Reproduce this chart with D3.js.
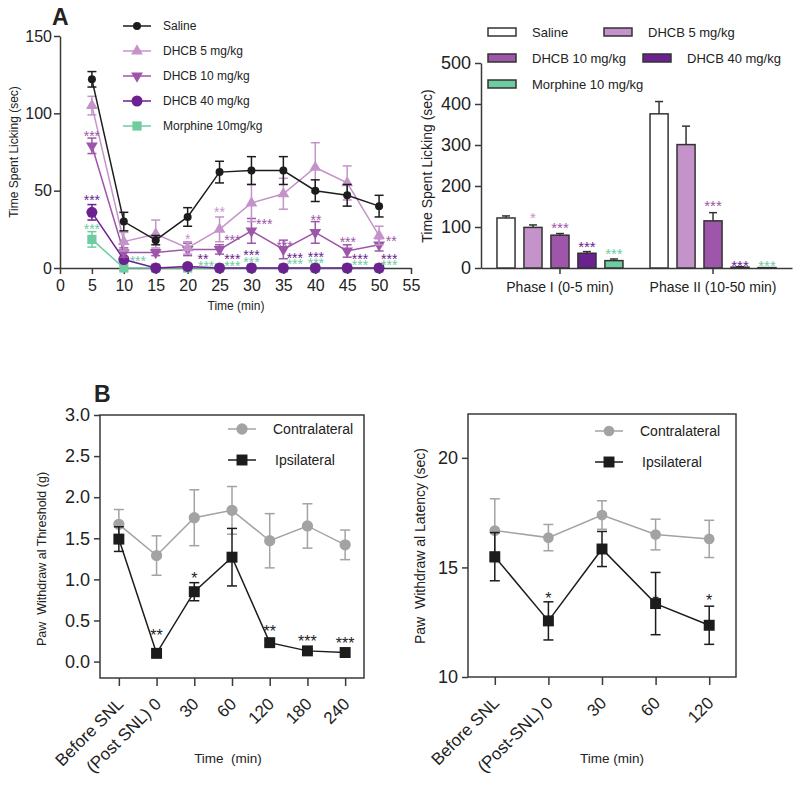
<!DOCTYPE html>
<html>
<head>
<meta charset="utf-8">
<script src="https://cdn.jsdelivr.net/npm/d3@7"></script>
<style>
body { margin: 0; background: #fff; }
text { font-family: "Liberation Sans", Arial, sans-serif; fill: #222; }
</style>
</head>
<body>
<script>
// ---------- panel A, left: licking time course ----------
var timeMin    = [5, 10, 15, 20, 25, 30, 35, 40, 45, 50];
var salineMean = [122, 30, 18, 33, 62, 63, 63, 50, 47, 40];
var salineErr  = [5, 6, 3, 6, 7, 9, 9, 7, 7, 7];
var dhcb5Mean  = [105, 17, 22, 13, 25, 42, 48, 65, 55, 21];
var dhcb5Err   = [6, 6, 9, 4, 8, 12, 10, 16, 11, 6];
var dhcb10Mean = [79, 10, 10, 12, 12, 24, 12, 23, 11, 15];
var dhcb10Err  = [5, 3, 2, 4, 3, 8, 6, 7, 4, 4];
var dhcb40Mean = [36, 5.5, 0, 1, 0, 0, 0, 0, 0, 0];
var dhcb40Err  = [5, 1, 0, 0, 0, 0, 0, 0, 0, 0];
var morphMean  = [18.5, 0, 0, 0, 0, 0, 0, 0, 0, 0];
var morphErr   = [5, 0, 0, 0, 0, 0, 0, 0, 0, 0];
var lineNames  = ["Saline", "DHCB 5 mg/kg", "DHCB 10 mg/kg", "DHCB 40 mg/kg", "Morphine 10mg/kg"];

// significance marks: [time, value, text, series index]
var starsA = [
  [5, 87, "***", 2], [5, 46, "***", 3], [5, 27, "***", 4],
  [12.2, 6.5, "***", 4],
  [20, 20.7, "*", 1], [22.4, 7.5, "**", 3], [22.9, 3.2, "***", 4],
  [25, 38, "**", 1], [27, 20, "***", 2], [27, 7.5, "***", 3], [27, 3.2, "***", 4],
  [32, 30, "***", 2], [30, 10, "***", 3], [30, 5.8, "***", 4],
  [35.2, 16, "***", 2], [36.8, 8.4, "***", 3], [36.8, 4.6, "***", 4],
  [40.1, 33, "**", 2], [40.1, 9, "***", 3], [40.1, 5.2, "***", 4],
  [45.1, 18.7, "***", 2], [47, 7.8, "***", 3], [47, 3.9, "***", 4],
  [51.9, 19.4, "**", 2], [51.6, 7.8, "***", 3], [51.6, 3.9, "***", 4]
];

// ---------- panel A, right: phase totals ----------
var phases     = ["Phase I (0-5 min)", "Phase II (10-50 min)"];
var barNames   = ["Saline", "DHCB 5 mg/kg", "DHCB 10 mg/kg", "DHCB 40 mg/kg", "Morphine 10 mg/kg"];
var phase1Mean = [122, 99, 80, 36, 18];
var phase1Err  = [5, 6, 4, 4, 4];
var phase2Mean = [376, 301, 115, 2, 1];
var phase2Err  = [30, 45, 20, 1, 0];
var phase1Stars = ["", "*", "***", "***", "***"];
var phase1StarV = [0, 130, 106, 58, 42];
var phase2Stars = ["", "", "***", "***", "***"];
var phase2StarV = [0, 0, 158, 14, 14];

// ---------- panel B, left: withdrawal threshold ----------
var thrTimes    = ["Before SNL", "(Post SNL) 0", "30", "60", "120", "180", "240"];
var contraThr   = [1.67, 1.29, 1.75, 1.84, 1.47, 1.65, 1.42];
var contraThrE  = [0.18, 0.24, 0.34, 0.29, 0.33, 0.27, 0.18];
var ipsiThr     = [1.49, 0.10, 0.85, 1.27, 0.23, 0.13, 0.11];
var ipsiThrE    = [0.15, 0.03, 0.11, 0.35, 0.03, 0.02, 0.02];
var thrStars    = ["", "**", "*", "", "**", "***", "***"];
var thrStarV    = [0, 0.36, 1.05, 0, 0.40, 0.28, 0.26];

// ---------- panel B, right: withdrawal latency ----------
var latTimes    = ["Before SNL", "(Post-SNL) 0", "30", "60", "120"];
var contraLat   = [16.68, 16.36, 17.39, 16.5, 16.3];
var contraLatE  = [1.45, 0.6, 0.65, 0.7, 0.85];
var ipsiLat     = [15.49, 12.56, 15.84, 13.35, 12.36];
var ipsiLatE    = [1.1, 0.87, 0.8, 1.42, 0.87];
var latStars    = ["", "*", "", "*", "*"];
var latStarV    = [0, 13.74, 0, 13.6, 13.66];

var colors = ["#1c1c1c", "#c493c9", "#9d56a9", "#6b2190", "#6fcba0"];
var gray = "#a3a3a3", black = "#1c1c1c", axisCol = "#3a3a3a";

var svg = d3.select("body").append("svg").attr("width", 800).attr("height", 786);

function styleAxis(g, fs) {
  g.selectAll("path, line").attr("stroke", axisCol).attr("stroke-width", 1.5);
  g.selectAll("text").style("font-size", fs + "px").attr("fill", "#222")
    .style("font-family", '"Liberation Sans", Arial, sans-serif');
}

function errorBars(g, xs, means, errs, x, y, color, cap, upOnly) {
  xs.forEach(function(xv, i) {
    if (!errs[i]) return;
    var cx = x(xv), lo = upOnly ? means[i] : means[i] - errs[i], hi = means[i] + errs[i];
    g.append("line").attr("x1", cx).attr("x2", cx).attr("y1", y(lo)).attr("y2", y(hi))
      .attr("stroke", color).attr("stroke-width", 1.5);
    g.append("line").attr("x1", cx - cap / 2).attr("x2", cx + cap / 2).attr("y1", y(hi)).attr("y2", y(hi))
      .attr("stroke", color).attr("stroke-width", 1.5);
    if (!upOnly) {
      g.append("line").attr("x1", cx - cap / 2).attr("x2", cx + cap / 2).attr("y1", y(lo)).attr("y2", y(lo))
        .attr("stroke", color).attr("stroke-width", 1.5);
    }
  });
}

function yLabel(txt, x, y, fs) {
  svg.append("text").attr("transform", "translate(" + x + "," + y + ") rotate(-90)")
    .attr("text-anchor", "middle").style("font-size", fs + "px").style("white-space", "pre").text(txt);
}

// ================= Panel A left =================
var xA = d3.scaleLinear().domain([0, 55]).range([60, 411]);
var yA = d3.scaleLinear().domain([0, 150]).range([268, 36]);

var gxA = svg.append("g").attr("transform", "translate(0,268)")
  .call(d3.axisBottom(xA).tickValues(d3.range(0, 56, 5)).tickSize(6).tickPadding(6).tickSizeOuter(0));
styleAxis(gxA, 16);
var gyA = svg.append("g").attr("transform", "translate(60,0)")
  .call(d3.axisLeft(yA).tickValues([0, 50, 100, 150]).tickSize(6).tickPadding(2).tickSizeOuter(0));
styleAxis(gyA, 16);

svg.append("text").attr("x", 236).attr("y", 310).attr("text-anchor", "middle")
  .style("font-size", "12px").text("Time (min)");
yLabel("Time Spent Licking (sec)", 18, 152, 12);
svg.append("text").attr("x", 52).attr("y", 25).style("font-size", "23px").style("font-weight", "bold").text("A");

var seriesA = [
  { m: salineMean, e: salineErr, sym: d3.symbolCircle, size: 50, rot: 0 },
  { m: dhcb5Mean, e: dhcb5Err, sym: d3.symbolTriangle, size: 60, rot: 0 },
  { m: dhcb10Mean, e: dhcb10Err, sym: d3.symbolTriangle, size: 60, rot: 180 },
  { m: dhcb40Mean, e: dhcb40Err, sym: d3.symbolCircle, size: 95, rot: 0 },
  { m: morphMean, e: morphErr, sym: d3.symbolSquare, size: 85, rot: 0 }
];

var lineA = d3.line().x(function(d) { return xA(d[0]); }).y(function(d) { return yA(d[1]); });
var plotA = svg.append("g");
[4, 3, 2, 1, 0].forEach(function(k) {
  var s = seriesA[k];
  var g = plotA.append("g");
  g.append("path").datum(timeMin.map(function(t, i) { return [t, s.m[i]]; }))
    .attr("d", lineA).attr("fill", "none").attr("stroke", colors[k]).attr("stroke-width", 1.5);
  errorBars(g, timeMin, s.m, s.e, xA, yA, colors[k], 9, false);
  g.selectAll("path.pt").data(timeMin).enter().append("path").attr("class", "pt")
    .attr("d", d3.symbol().type(s.sym).size(s.size))
    .attr("transform", function(t, i) { return "translate(" + xA(t) + "," + yA(s.m[i]) + ") rotate(" + s.rot + ")"; })
    .attr("fill", colors[k]);
});

svg.append("g").selectAll("text").data(starsA).enter().append("text")
  .attr("x", function(d) { return xA(d[0]); })
  .attr("y", function(d) { return yA(d[1]); })
  .attr("dy", "0.55em").attr("text-anchor", "middle")
  .style("font-size", "14px").attr("fill", function(d) { return colors[d[3]]; })
  .style("fill", function(d) { return colors[d[3]]; })
  .text(function(d) { return d[2]; });

// legend
var legA = svg.append("g");
lineNames.forEach(function(n, k) {
  var ly = 26 + k * 25;
  legA.append("line").attr("x1", 123).attr("x2", 151).attr("y1", ly).attr("y2", ly)
    .attr("stroke", colors[k]).attr("stroke-width", 1.5);
  legA.append("path").attr("d", d3.symbol().type(seriesA[k].sym).size(seriesA[k].size))
    .attr("transform", "translate(137," + ly + ") rotate(" + seriesA[k].rot + ")").attr("fill", colors[k]);
  legA.append("text").attr("x", 163).attr("y", ly).attr("dy", "0.35em").style("font-size", "12px").text(n);
});

// ================= Panel A right =================
var xP = d3.scaleBand().domain(phases).range([481, 792]).paddingInner(0).paddingOuter(0.016);
var xS = d3.scaleBand().domain(barNames).range([-63, 63]).paddingInner(0.33).paddingOuter(0);
var yP = d3.scaleLinear().domain([0, 500]).range([268, 63]);

var gxP = svg.append("g").attr("transform", "translate(0,268)")
  .call(d3.axisBottom(xP).tickSize(6).tickPadding(8).tickSizeOuter(0));
styleAxis(gxP, 14);
var gyP = svg.append("g").attr("transform", "translate(481,0)")
  .call(d3.axisLeft(yP).ticks(5).tickSize(6).tickPadding(4).tickSizeOuter(0));
styleAxis(gyP, 18);
yLabel("Time Spent Licking (sec)", 432, 166, 14);

var phaseData = [
  { p: phases[0], m: phase1Mean, e: phase1Err, s: phase1Stars, sv: phase1StarV },
  { p: phases[1], m: phase2Mean, e: phase2Err, s: phase2Stars, sv: phase2StarV }
];
var barFill = ["#ffffff", colors[1], colors[2], colors[3], colors[4]];
phaseData.forEach(function(pd) {
  var g = svg.append("g").attr("transform", "translate(" + (xP(pd.p) + xP.bandwidth() / 2) + ",0)");
  var bx = function(n) { return xS(n) + xS.bandwidth() / 2; };
  errorBars(g, barNames, pd.m, pd.e, bx, yP, "#333", 8, true);
  g.selectAll("rect").data(barNames).enter().append("rect")
    .attr("x", function(n) { return xS(n); })
    .attr("width", xS.bandwidth())
    .attr("y", function(n, i) { return yP(pd.m[i]); })
    .attr("height", function(n, i) { return yP(0) - yP(pd.m[i]); })
    .attr("fill", function(n, i) { return barFill[i]; })
    .attr("stroke", "#333").attr("stroke-width", 1.5);
  g.selectAll("text.star").data(barNames).enter().append("text").attr("class", "star")
    .attr("x", bx).attr("y", function(n, i) { return yP(pd.sv[i]); })
    .attr("dy", "0.55em").attr("text-anchor", "middle").style("font-size", "15px")
    .style("fill", function(n, i) { return colors[i]; })
    .text(function(n, i) { return pd.s[i]; });
});

var legLayout = [[488, 532, 32], [604, 648, 32], [488, 532, 58], [643, 687, 58], [488, 532, 84]];
var legP = svg.append("g");
barNames.forEach(function(n, k) {
  var L = legLayout[k];
  legP.append("rect").attr("x", L[0]).attr("y", L[2] - 4).attr("width", 28).attr("height", 8)
    .attr("fill", barFill[k]).attr("stroke", "#333").attr("stroke-width", 1.5);
  legP.append("text").attr("x", L[1]).attr("y", L[2]).attr("dy", "0.35em").style("font-size", "13px").text(n);
});

// ================= Panel B =================
function panelB(opt) {
  var x = d3.scalePoint().domain(opt.cats).range(opt.xr).padding(0.5);
  var y = d3.scaleLinear().domain(opt.yd).range(opt.yr);
  svg.append("rect").attr("x", opt.xr[0]).attr("y", opt.yr[1])
    .attr("width", opt.xr[1] - opt.xr[0]).attr("height", opt.yr[0] - opt.yr[1])
    .attr("fill", "none").attr("stroke", axisCol).attr("stroke-width", 1.5);
  var gy = svg.append("g").attr("transform", "translate(" + opt.xr[0] + ",0)")
    .call(d3.axisLeft(y).tickValues(opt.yt).tickFormat(opt.yf).tickSize(6).tickPadding(4));
  gy.select(".domain").remove();
  styleAxis(gy, 18);
  var gx = svg.append("g").attr("transform", "translate(0," + opt.yr[0] + ")")
    .call(d3.axisBottom(x).tickSize(8));
  gx.select(".domain").remove();
  styleAxis(gx, 17);
  gx.selectAll("text").attr("text-anchor", "end").attr("dy", null)
    .attr("transform", "translate(5,27) rotate(-45)").attr("y", 0).attr("x", 0);

  var line = d3.line().x(function(d) { return x(d[0]); }).y(function(d) { return y(d[1]); });
  var sets = [
    { m: opt.contra, e: opt.contraE, c: gray, sym: d3.symbolCircle, size: opt.cSize },
    { m: opt.ipsi, e: opt.ipsiE, c: black, sym: d3.symbolSquare, size: 120 }
  ];
  // stars sit under the markers
  svg.append("g").selectAll("text").data(opt.cats).enter().append("text")
    .attr("x", function(c) { return x(c); }).attr("y", function(c, i) { return y(opt.sv[i]); })
    .attr("dy", "0.55em").attr("text-anchor", "middle").style("font-size", "16px")
    .text(function(c, i) { return opt.stars[i]; });
  sets.forEach(function(s) {
    var g = svg.append("g");
    g.append("path").datum(opt.cats.map(function(c, i) { return [c, s.m[i]]; }))
      .attr("d", line).attr("fill", "none").attr("stroke", s.c).attr("stroke-width", 1.5);
    errorBars(g, opt.cats, s.m, s.e, x, y, s.c, 10, false);
    g.selectAll("path.pt").data(opt.cats).enter().append("path").attr("class", "pt")
      .attr("d", d3.symbol().type(s.sym).size(s.size))
      .attr("transform", function(c, i) { return "translate(" + x(c) + "," + y(s.m[i]) + ")"; })
      .attr("fill", s.c);
  });
  var names = ["Contralateral", "Ipsilateral"];
  names.forEach(function(n, k) {
    var ly = opt.leg[1] + k * 31, lx = opt.leg[0];
    svg.append("line").attr("x1", lx - 14).attr("x2", lx + 14).attr("y1", ly).attr("y2", ly)
      .attr("stroke", sets[k].c).attr("stroke-width", 1.5);
    svg.append("path").attr("d", d3.symbol().type(sets[k].sym).size(sets[k].size))
      .attr("transform", "translate(" + lx + "," + ly + ")").attr("fill", sets[k].c);
    svg.append("text").attr("x", lx + 31 + k * 2).attr("y", ly).attr("dy", "0.35em")
      .style("font-size", "14px").text(n);
  });
  svg.append("text").attr("x", (opt.xr[0] + opt.xr[1]) / 2 + opt.tx).attr("y", 763)
    .attr("text-anchor", "middle").style("font-size", "13.5px").style("white-space", "pre").text(opt.xlab);
  yLabel(opt.ylab, opt.yl[0], opt.yl[1], opt.yl[2]);
}

panelB({
  cats: thrTimes, xr: [100, 364], yd: [-0.2, 3.0], yr: [678, 415],
  yt: [0, 0.5, 1, 1.5, 2, 2.5, 3], yf: d3.format(".1f"),
  contra: contraThr, contraE: contraThrE, ipsi: ipsiThr, ipsiE: ipsiThrE,
  stars: thrStars, sv: thrStarV, cSize: 100, leg: [242, 429],
  xlab: "Time  (min)", tx: -4, ylab: "Paw  Withdraw al Threshold (g)", yl: [46, 559, 12.5]
});
panelB({
  cats: latTimes, xr: [468, 736], yd: [10, 22], yr: [677, 414],
  yt: [10, 15, 20], yf: d3.format("d"),
  contra: contraLat, contraE: contraLatE, ipsi: ipsiLat, ipsiE: ipsiLatE,
  stars: latStars, sv: latStarV, cSize: 90, leg: [609, 431],
  xlab: "Time (min)", tx: 10, ylab: "Paw  Withdraw al Latency (sec)", yl: [425, 546, 14]
});
svg.append("text").attr("x", 94).attr("y", 402).style("font-size", "23px").style("font-weight", "bold").text("B");
</script>
</body>
</html>
